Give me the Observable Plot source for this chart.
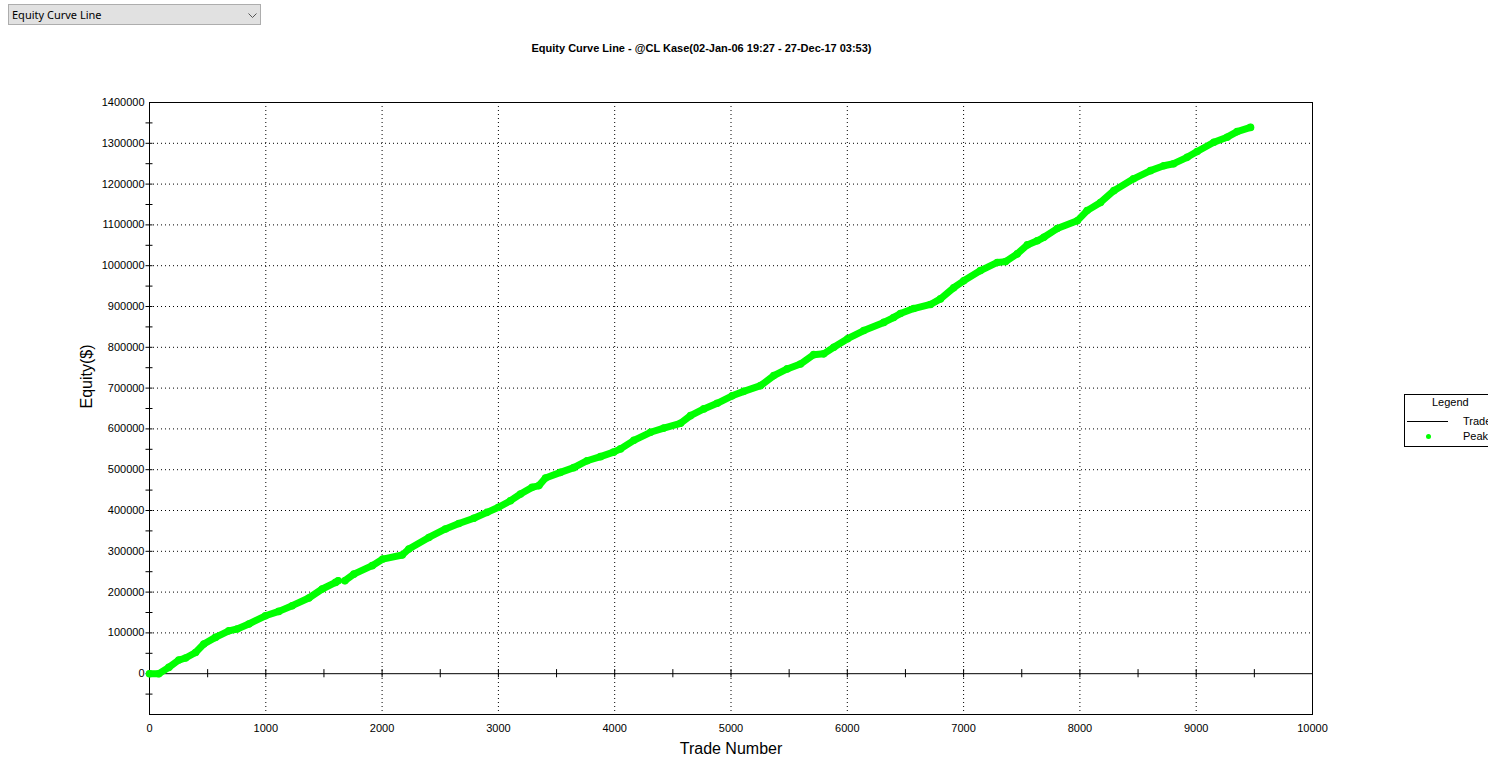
<!DOCTYPE html>
<html>
<head>
<meta charset="utf-8">
<script src="https://cdn.jsdelivr.net/npm/d3@7"></script>
<script src="https://cdn.jsdelivr.net/npm/@observablehq/plot@0.6"></script>
<style>
  html, body { margin: 0; padding: 0; background: #fff; overflow: hidden; width: 1488px; height: 782px; }
  body { position: relative; font-family: "Liberation Sans", Arial, sans-serif; color: #000; }
  #header { position: relative; height: 60px; }
  #dropdown { position: absolute; left: 8px; top: 4px; width: 251px; height: 19px; border: 1px solid #adadad; background: #e1e1e1;
    font-family: "Noto Sans", "Open Sans", sans-serif; font-size: 11px; line-height: 19px; color: #000; }
  #dropdown span.t { position: absolute; left: 3px; top: 0; }
  #dropdown svg { position: absolute; right: 3px; top: 8px; }
  #title { position: absolute; left: 0; width: 1403px; top: 42px; text-align: center; font-weight: bold; font-size: 11px; color: #000; }
  #legend { position: absolute; left: 1404px; top: 394px; width: 110px; height: 51px; border: 1px solid #000; background: #fff; font-size: 11px; color: #000; }
  #legend .h { position: absolute; left: 27px; top: 1px; }
  #legend .l1 { position: absolute; left: 2px; top: 26px; width: 41px; height: 0; border-top: 1px solid #000; }
  #legend .t1 { position: absolute; left: 58px; top: 20px; }
  #legend .d2 { position: absolute; left: 21px; top: 39px; width: 5px; height: 5px; border-radius: 50%; background: #00ff00; }
  #legend .t2 { position: absolute; left: 58px; top: 35px; }
</style>
</head>
<body>
<div id="header">
  <div id="dropdown"><span class="t">Equity Curve Line</span>
    <svg width="9" height="5" viewBox="0 0 9 5"><polyline points="0.5,0.5 4.5,4.5 8.5,0.5" fill="none" stroke="#555" stroke-width="1"/></svg>
  </div>
  <div id="title">Equity Curve Line - @CL Kase(02-Jan-06 19:27 - 27-Dec-17 03:53)</div>
</div>
<div id="chart"></div>
<div id="legend">
  <div class="h">Legend</div>
  <div class="l1"></div><div class="t1">Trades</div>
  <div class="d2"></div><div class="t2">Peaks</div>
</div>
<script>
// ---- data (null = gap in the curve) ----
const tradeNumber = [0, 80, 166, 252, 310, 396, 467, 567, 682, 754, 854, 997, 1112, 1227, 1370, 1485, 1600, 1622, 1650, 1680, 1757, 1915, 2006, 2173, 2230, 2402, 2545, 2660, 2789, 2903, 3001, 3104, 3190, 3290, 3348, 3405, 3534, 3648, 3763, 3878, 3990, 4050, 4165, 4308, 4422, 4566, 4652, 4766, 4881, 5010, 5110, 5254, 5368, 5483, 5597, 5711, 5797, 5884, 6003, 6142, 6314, 6398, 6457, 6571, 6715, 6801, 6915, 7001, 7145, 7290, 7361, 7461, 7548, 7633, 7690, 7805, 7977, 8062, 8177, 8292, 8461, 8607, 8721, 8806, 8922, 9008, 9152, 9266, 9352, 9467];
const equity      = [0, 0, 15500, 33500, 38500, 52000, 72800, 89000, 105000, 109500, 121800, 142000, 152700, 166700, 185600, 207600, 223800, 228000, null, 228000, 244000, 264800, 281000, 291000, 305700, 334000, 354700, 368000, 381000, 395500, 408000, 424000, 440500, 456700, 461000, 479800, 493500, 505000, 522000, 532000, 543000, 551000, 572000, 591700, 602000, 613700, 632500, 649000, 662700, 681000, 692000, 706000, 730600, 747000, 759000, 782000, 784000, 800000, 821000, 841000, 861000, 873000, 883000, 895000, 905000, 918600, 946000, 963000, 988000, 1008000, 1010000, 1029000, 1051000, 1061000, 1069600, 1091000, 1110000, 1135000, 1155000, 1184000, 1213000, 1233000, 1245000, 1250000, 1265600, 1280000, 1302500, 1315000, 1328700, 1339000];

const xTickLabels = [0, 1000, 2000, 3000, 4000, 5000, 6000, 7000, 8000, 9000, 10000];
const xGridLines  = [1000, 2000, 3000, 4000, 5000, 6000, 7000, 8000, 9000];
const xTickMarks  = [500, 1000, 1500, 2000, 2500, 3000, 3500, 4000, 4500, 5000, 5500, 6000, 6500, 7000, 7500, 8000, 8500, 9000, 9500];
const yTickLabels = [0, 100000, 200000, 300000, 400000, 500000, 600000, 700000, 800000, 900000, 1000000, 1100000, 1200000, 1300000, 1400000];
const yGridLines  = [100000, 200000, 300000, 400000, 500000, 600000, 700000, 800000, 900000, 1000000, 1100000, 1200000, 1300000];
const yTickMarks  = [-50000, 0, 50000, 100000, 150000, 200000, 250000, 300000, 350000, 400000, 450000, 500000, 550000, 600000, 650000, 700000, 750000, 800000, 850000, 900000, 950000, 1000000, 1050000, 1100000, 1150000, 1200000, 1250000, 1300000, 1350000];
const xLabel = "Trade Number";
const yLabel = "Equity($)";

const rows = tradeNumber.map((t, i) => ({trade: t, equity: equity[i]}));
const green = "#00ff00";

const chart = Plot.plot({
  width: 1488,
  height: 722,
  marginLeft: 149,
  marginRight: 176,
  marginTop: 42,
  marginBottom: 68,
  style: {fontFamily: "'Liberation Sans', Arial, sans-serif", fontSize: "11px", color: "#000", background: "#fff", overflow: "visible"},
  x: {domain: [0, 10000]},
  y: {domain: [-100000, 1400000]},
  marks: [
    Plot.ruleX(xGridLines, {x: d => d, stroke: "#000", strokeDasharray: "1,3", strokeWidth: 1}),
    Plot.ruleY(yGridLines, {y: d => d, stroke: "#000", strokeDasharray: "1,3", strokeWidth: 1}),
    Plot.ruleY([0], {stroke: "#000", strokeWidth: 1}),
    Plot.ruleX(xTickMarks, {x: d => d, y1: -10000, y2: 10000, stroke: "#000"}),
    Plot.ruleY(yTickMarks, {y: d => d, x1: -30, x2: 30, stroke: "#000"}),
    Plot.frame({stroke: "#000", strokeWidth: 1}),
    Plot.axisX({ticks: xTickLabels, tickSize: 0, tickPadding: 10, tickFormat: d3.format("d"), label: null}),
    Plot.axisY({ticks: yTickLabels, tickSize: 0, tickPadding: 5, tickFormat: d3.format("d"), label: null}),
    Plot.line(rows, {x: "trade", y: "equity", stroke: green, strokeWidth: 7, strokeLinecap: "round", strokeLinejoin: "round"}),
    Plot.dot(rows.filter(d => d.equity != null), {x: "trade", y: "equity", r: 3.8, fill: green}),
    Plot.text([yLabel], {frameAnchor: "left", dx: -63, rotate: -90, fontSize: 16, text: d => d}),
    Plot.text([xLabel], {frameAnchor: "bottom", dy: 39, fontSize: 16, text: d => d})
  ]
});
document.getElementById("chart").appendChild(chart);
</script>
</body>
</html>
